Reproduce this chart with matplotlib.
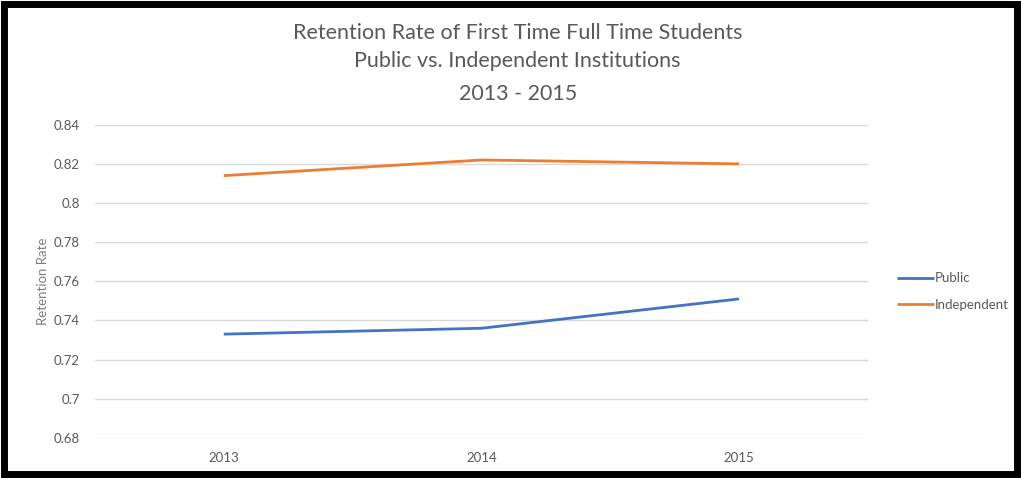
import matplotlib
matplotlib.use('Agg')
import matplotlib.pyplot as plt
from matplotlib.patches import Rectangle

years = ['2013', '2014', '2015']
public = [0.733, 0.736, 0.751]
independent = [0.814, 0.822, 0.820]
yticks = [0.68, 0.70, 0.72, 0.74, 0.76, 0.78, 0.80, 0.82, 0.84]
ytick_labels = ['0.68', '0.7', '0.72', '0.74', '0.76', '0.78', '0.8', '0.82', '0.84']

plt.rcParams['font.family'] = ['Lato', 'DejaVu Sans']
gray = '#595959'

fig = plt.figure(figsize=(10.21, 4.78), dpi=100)
ax = fig.add_axes([0.093, 0.084, 0.757, 0.655])

x = range(len(years))
ax.plot(x, public, color='#4472C4', lw=2.0, label='Public', solid_capstyle='butt')
ax.plot(x, independent, color='#ED7D31', lw=2.0, label='Independent', solid_capstyle='butt')

ax.set_xlim(-0.5, 2.5)
ax.set_ylim(0.68, 0.84)
ax.set_xticks(list(x))
ax.set_xticklabels(years)
ax.set_yticks(yticks)
ax.set_yticklabels(ytick_labels)
ax.grid(axis='y', color='#D9D9D9', lw=1.0)
ax.set_axisbelow(True)
for s in ax.spines.values():
    s.set_visible(False)
ax.tick_params(length=0, labelsize=9.5, labelcolor=gray)
ax.tick_params(axis='y', pad=11)
ax.tick_params(axis='x', pad=10)
ax.set_ylabel('Retention Rate', fontsize=9.5, color='#7f7f7f', labelpad=3)

fig.text(0.507, 0.93, 'Retention Rate of First Time Full Time Students', ha='center', va='center',
         fontsize=15.5, color=gray)
fig.text(0.507, 0.872, 'Public vs. Independent Institutions', ha='center', va='center',
         fontsize=15.5, color=gray)
fig.text(0.507, 0.803, '2013 - 2015', ha='center', va='center', fontsize=15.5, color=gray)

leg = fig.legend(loc='center left', bbox_to_anchor=(0.867, 0.39), frameon=False, fontsize=9.5,
                 handlelength=2.8, handletextpad=0.05, labelspacing=1.1, labelcolor=gray)

fig.patches.append(Rectangle((0.004, 0.008), 0.992, 0.984, transform=fig.transFigure,
                             fill=False, edgecolor='black', lw=5))

fig.savefig('out.png', dpi=100)
